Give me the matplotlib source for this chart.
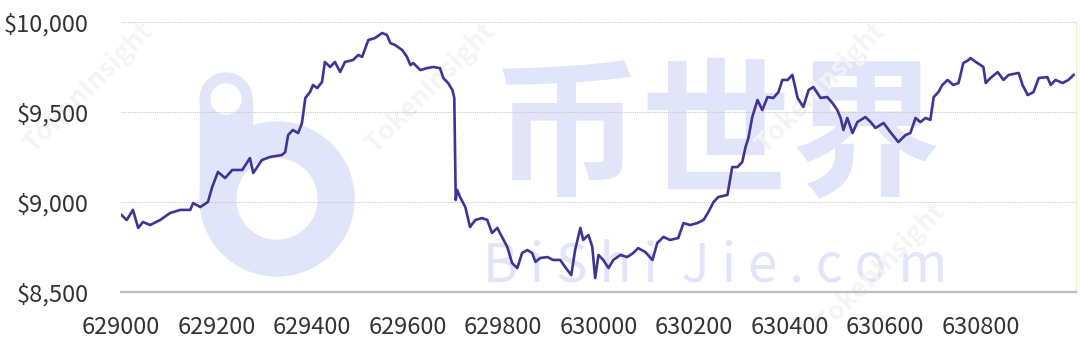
import matplotlib
matplotlib.use("Agg")
import matplotlib.pyplot as plt
import matplotlib.patches as mpatches
from matplotlib.ticker import FixedLocator, FuncFormatter

plt.rcParams['font.family'] = ['Noto Sans CJK SC', 'DejaVu Sans']

# block height vs BTC price
blocks = [629001, 629012, 629025, 629036, 629046, 629061, 629082, 629103, 629124, 629145,
          629151, 629166, 629182, 629191, 629203, 629218, 629233, 629254, 629270, 629277,
          629295, 629312, 629337, 629344, 629350, 629360, 629371, 629379, 629386, 629396,
          629402, 629411, 629421, 629427, 629438, 629448, 629459, 629469, 629486, 629497,
          629505, 629518, 629532, 629547, 629557, 629564, 629574, 629589, 629599, 629606,
          629612, 629627, 629641, 629654, 629668, 629675, 629685, 629694, 629698, 629701,
          629704, 629710, 629721, 629731, 629742, 629756, 629767, 629777, 629788, 629798,
          629809, 629819, 629830, 629840, 629851, 629861, 629868, 629878, 629893, 629905,
          629920, 629930, 629943, 629951, 629962, 629968, 629979, 629987, 629993, 630000,
          630010, 630021, 630031, 630046, 630060, 630073, 630083, 630098, 630113, 630123,
          630136, 630150, 630167, 630178, 630192, 630207, 630220, 630230, 630241, 630251,
          630270, 630280, 630291, 630301, 630308, 630314, 630322, 630333, 630343, 630354,
          630366, 630377, 630385, 630396, 630406, 630417, 630429, 630440, 630450, 630465,
          630479, 630490, 630500, 630507, 630513, 630521, 630532, 630542, 630559, 630570,
          630580, 630597, 630611, 630628, 630643, 630653, 630664, 630674, 630685, 630695,
          630702, 630712, 630720, 630731, 630743, 630754, 630764, 630775, 630779, 630790,
          630800, 630806, 630811, 630821, 630836, 630848, 630859, 630880, 630888, 630899,
          630911, 630922, 630940, 630947, 630957, 630972, 630984, 630995]
prices = [8928, 8900, 8956, 8856, 8889, 8872, 8900, 8939, 8956, 8956,
          8994, 8972, 9000, 9083, 9167, 9133, 9178, 9178, 9244, 9161,
          9233, 9250, 9261, 9278, 9372, 9400, 9383, 9439, 9578, 9611,
          9650, 9633, 9667, 9778, 9750, 9778, 9722, 9778, 9789, 9817,
          9806, 9900, 9911, 9939, 9928, 9883, 9872, 9844, 9806, 9761,
          9772, 9733, 9744, 9750, 9744, 9689, 9661, 9622, 9578, 9011,
          9067, 9028, 8972, 8861, 8900, 8911, 8900, 8828, 8856, 8806,
          8750, 8661, 8633, 8717, 8733, 8717, 8667, 8689, 8694, 8678,
          8678, 8639, 8594, 8733, 8856, 8789, 8817, 8750, 8578, 8706,
          8678, 8633, 8678, 8706, 8694, 8717, 8744, 8722, 8678, 8772,
          8806, 8789, 8800, 8883, 8872, 8883, 8900, 8944, 9000, 9028,
          9039, 9194, 9194, 9222, 9306, 9356, 9472, 9567, 9511, 9583,
          9578, 9611, 9678, 9678, 9706, 9578, 9528, 9622, 9639, 9578,
          9583, 9550, 9511, 9467, 9400, 9467, 9383, 9444, 9472, 9444,
          9411, 9439, 9389, 9333, 9372, 9383, 9467, 9444, 9467, 9456,
          9583, 9611, 9650, 9678, 9650, 9661, 9772, 9789, 9800, 9778,
          9761, 9750, 9661, 9689, 9722, 9678, 9706, 9717, 9650, 9594,
          9611, 9689, 9694, 9650, 9678, 9661, 9678, 9706]

y_ticks = [8500, 9000, 9500, 10000]
x_ticks = [629000, 629200, 629400, 629600, 629800, 630000, 630200, 630400, 630600, 630800]

W, H = 1080, 358
fig = plt.figure(figsize=(W / 100, H / 100), dpi=100)
ax = fig.add_axes([121 / W, 1 - 292 / H, (1076 - 121) / W, (292 - 22) / H])
ax.set_facecolor('none')
ax.set_zorder(2)

# --- background watermark (pixel coords -> inches) ---
wm = '#e2e5f9'
px = lambda x, y: (x / 100, (H - y) / 100)
tr = fig.dpi_scale_trans
fig.patches.append(mpatches.Wedge(px(277, 199), 0.77, 0, 360, width=0.37, color=wm, transform=tr, zorder=0))
fig.patches.append(mpatches.Rectangle(px(200, 199), 0.52, 1.0, color=wm, transform=tr, zorder=0))
fig.patches.append(mpatches.Circle(px(226, 99), 0.26, color=wm, transform=tr, zorder=0))
fig.patches.append(mpatches.Circle(px(226, 99), 0.15, color='white', transform=tr, zorder=0.5))
fig.patches.append(mpatches.Circle(px(277, 199), 0.40, color='white', transform=tr, zorder=0.5))
fig.text(717 / W, 1 - 140 / H, '币世界', fontsize=108, fontweight='bold', color=wm,
         ha='center', va='center', zorder=1)
fig.text(715 / W, 1 - 266 / H, 'B i S h i  J i e . c o m', fontsize=38, color=wm,
         ha='center', va='center', zorder=1)
for (x, y) in [(88, 88), (430, 88), (820, 88), (880, 268)]:
    fig.text(x / W, 1 - y / H, 'TokenInsight', fontsize=19, fontweight='bold', color='#f4f4f4',
             rotation=45, ha='center', va='center', zorder=1)

ax.plot(blocks, prices, color='#3d3496', lw=1.9, zorder=3)

ax.set_xlim(629000, 631000)
ax.set_ylim(8500, 10000)
ax.yaxis.set_major_locator(FixedLocator(y_ticks))
ax.yaxis.set_major_formatter(FuncFormatter(lambda v, p: f"${v:,.0f}"))
ax.xaxis.set_major_locator(FixedLocator(x_ticks))
ax.xaxis.set_major_formatter(FuncFormatter(lambda v, p: f"{v:.0f}"))

ax.grid(axis='y', linestyle=(0, (1, 1)), color='#c8c8c8', lw=0.8)
for s in ['top', 'left']:
    ax.spines[s].set_visible(False)
ax.spines['right'].set_color('#f3ecc4')
ax.spines['bottom'].set_color('#bdbdbd')
ax.spines['bottom'].set_linewidth(1.6)
ax.tick_params(length=0, labelsize=17, colors='#333333')
ax.tick_params(axis='y', pad=23.5)
ax.tick_params(axis='x', pad=17)

fig.savefig('out.png', dpi=100)
